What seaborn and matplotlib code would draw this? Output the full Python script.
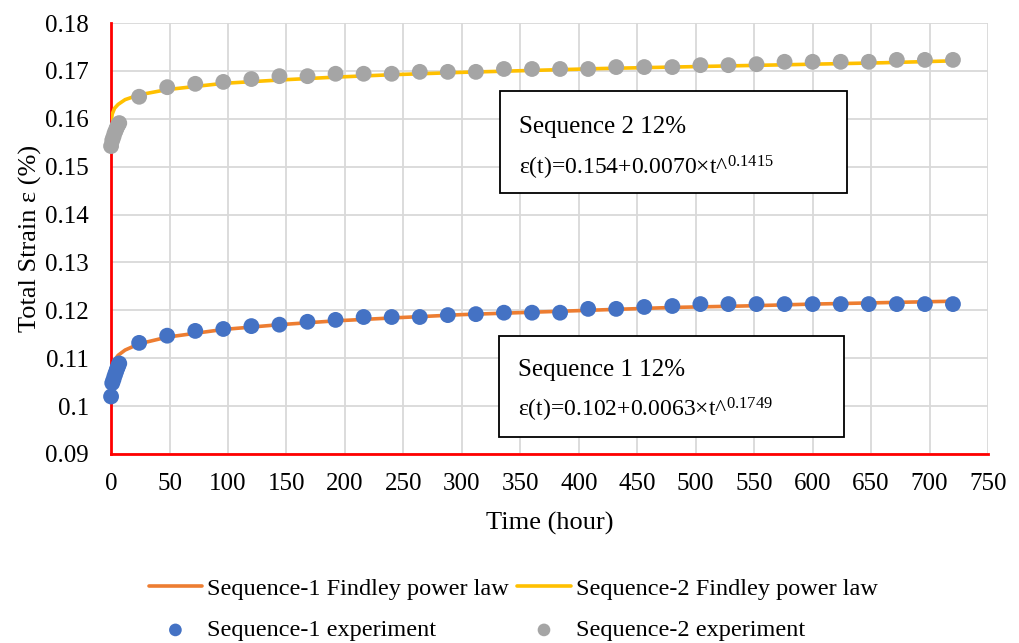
import numpy as np
import pandas as pd
import matplotlib
matplotlib.use("Agg")
import matplotlib.pyplot as plt
import seaborn as sns
from matplotlib.patches import Rectangle

# ---------------- data ----------------
exp_time = [0, 1, 2, 3, 4, 5, 6, 7,
            24, 48, 72, 96, 120, 144, 168, 192, 216, 240, 264, 288, 312, 336,
            360, 384, 408, 432, 456, 480, 504, 528, 552, 576, 600, 624, 648,
            672, 696, 720]
seq1_exp = [0.1020, 0.1048, 0.1055, 0.1063, 0.1070, 0.1077, 0.1083, 0.1089,
            0.1132, 0.1147, 0.1157, 0.1161, 0.1167, 0.1170, 0.1176, 0.1180,
            0.1186, 0.1186, 0.1186, 0.1190, 0.1192, 0.1195, 0.1195, 0.1195,
            0.1203, 0.1203, 0.1207, 0.1209, 0.1213, 0.1213, 0.1213, 0.1213,
            0.1213, 0.1213, 0.1213, 0.1213, 0.1213, 0.1213]
seq2_exp = [0.1543, 0.1555, 0.1562, 0.1570, 0.1576, 0.1582, 0.1587, 0.1591,
            0.1646, 0.1666, 0.1673, 0.1677, 0.1683, 0.1689, 0.1689, 0.1694,
            0.1694, 0.1694, 0.1698, 0.1698, 0.1698, 0.1704, 0.1704, 0.1704,
            0.1704, 0.1708, 0.1708, 0.1708, 0.1712, 0.1712, 0.1714, 0.1719,
            0.1719, 0.1719, 0.1719, 0.1723, 0.1723, 0.1723]

fit_time = [0.2, 1, 3, 6, 12, 24, 48, 96, 144, 192, 240, 300, 360, 420, 480,
            540, 600, 660, 720]
seq1_fit = [0.1068, 0.1083, 0.1096, 0.1106, 0.1117, 0.1130, 0.1144, 0.1160,
            0.1170, 0.1178, 0.1184, 0.1191, 0.1196, 0.1201, 0.1206, 0.1209,
            0.1213, 0.1216, 0.1219]
seq2_fit = [0.1596, 0.1610, 0.1622, 0.1630, 0.1640, 0.1650, 0.1661, 0.1674,
            0.1681, 0.1687, 0.1692, 0.1697, 0.1701, 0.1705, 0.1708, 0.1711,
            0.1714, 0.1717, 0.1721]

x_ticks = list(range(0, 751, 50))
y_ticks = [0.09, 0.10, 0.11, 0.12, 0.13, 0.14, 0.15, 0.16, 0.17, 0.18]
y_ticklabels = ["0.09", "0.1", "0.11", "0.12", "0.13", "0.14", "0.15", "0.16", "0.17", "0.18"]

labels = ["Sequence-1 Findley power law", "Sequence-2 Findley power law",
          "Sequence-1 experiment", "Sequence-2 experiment"]
box_titles = ["Sequence 2 12%", "Sequence 1 12%"]
box_eqs = [r"ε(t)=0.154+0.0070×t^$\mathregular{^{0.1415}}$",
           r"ε(t)=0.102+0.0063×t^$\mathregular{^{0.1749}}$"]

c_orange = "#ED7D31"
c_yellow = "#FFC000"
c_blue = "#4472C4"
c_gray = "#A5A5A5"

# ---------------- style ----------------
sns.set_theme(style="white")
plt.rcParams["font.family"] = ["Liberation Serif", "DejaVu Serif"]
plt.rcParams["mathtext.fontset"] = "custom"
plt.rcParams["mathtext.rm"] = "Liberation Serif"
plt.rcParams["text.color"] = "black"
plt.rcParams["axes.labelcolor"] = "black"

fig = plt.figure(figsize=(10.19, 6.43), dpi=100)
ax = fig.add_axes([0.109, 0.294, 0.8606, 0.6702])

df_exp = pd.DataFrame({"t": exp_time, "s1": seq1_exp, "s2": seq2_exp})
df_fit = pd.DataFrame({"t": fit_time, "s1": seq1_fit, "s2": seq2_fit})

sns.lineplot(data=df_fit, x="t", y="s1", ax=ax, color=c_orange, lw=2.6,
             label=labels[0], zorder=3)
sns.lineplot(data=df_fit, x="t", y="s2", ax=ax, color=c_yellow, lw=2.6,
             label=labels[1], zorder=3)
sns.scatterplot(data=df_exp, x="t", y="s1", ax=ax, color=c_blue, s=130,
                edgecolor="none", label=labels[2], zorder=4, clip_on=False)
sns.scatterplot(data=df_exp, x="t", y="s2", ax=ax, color=c_gray, s=130,
                edgecolor="none", label=labels[3], zorder=4, clip_on=False)

ax.set_xlim(0, 750)
ax.set_ylim(0.09, 0.18)
ax.set_xticks(x_ticks)
ax.set_yticks(y_ticks)
ax.set_yticklabels(y_ticklabels)
ax.grid(True, color="#D9D9D9", lw=1.3, zorder=0)
ax.set_axisbelow(True)
for s in ["top", "right"]:
    ax.spines[s].set_visible(False)
for s in ["left", "bottom"]:
    ax.spines[s].set_color("#FF0000")
    ax.spines[s].set_linewidth(2)
    ax.spines[s].set_zorder(2.5)
ax.tick_params(axis="both", which="major", direction="inout", length=10,
               width=2, color="#FF0000", labelsize=18, labelcolor="black")
ax.tick_params(axis="y", pad=11)
ax.tick_params(axis="x", pad=9)
ax.set_xlabel("Time (hour)", fontsize=19, labelpad=12)
ax.set_ylabel("Total Strain ε (%)", fontsize=19, labelpad=2)

# text boxes
boxes = [(0.4436, 0.6056, 0.3956, 0.2366), (0.4424, 0.0394, 0.3934, 0.2344)]
title_y = [0.7587, 0.1949]
eq_y = [0.6636, 0.1021]
text_x = [0.4652, 0.4640]
for i in range(2):
    x0, y0, w, h = boxes[i]
    ax.add_patch(Rectangle((x0, y0), w, h, transform=ax.transAxes,
                           facecolor="white", edgecolor="black", lw=1.3, zorder=5))
    ax.text(text_x[i], title_y[i], box_titles[i], transform=ax.transAxes,
            fontsize=18, va="center", ha="left", zorder=6)
    ax.text(text_x[i], eq_y[i], box_eqs[i], transform=ax.transAxes,
            fontsize=17, va="center", ha="left", zorder=6)

# legend
handles, labs = ax.get_legend_handles_labels()
order = [0, 2, 1, 3]
ax.legend([handles[i] for i in order], [labs[i] for i in order],
          loc="center", bbox_to_anchor=(0.5035, 0.052), bbox_transform=fig.transFigure,
          ncol=2, frameon=False, fontsize=17.5, handlelength=2.2,
          columnspacing=0.35, handletextpad=0.2, labelspacing=0.8,
          markerscale=0.8)

fig.savefig("out.png", dpi=100)
